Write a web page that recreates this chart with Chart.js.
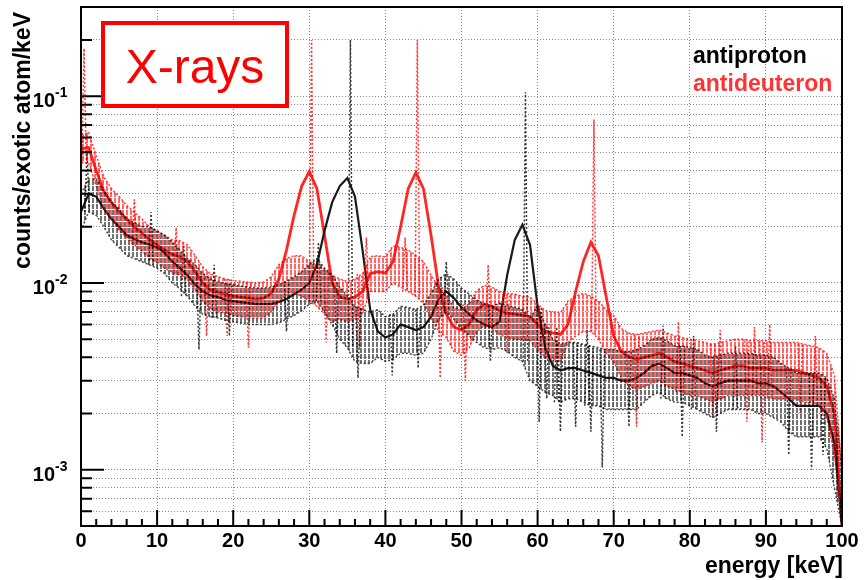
<!DOCTYPE html>
<html>
<head>
<meta charset="utf-8">
<script src="https://cdn.jsdelivr.net/npm/chart.js@4.4.1/dist/chart.umd.min.js"></script>
<style>
  html, body { margin: 0; padding: 0; background: #fff; }
  canvas { display: block; }
</style>
</head>
<body>
<canvas id="xray" width="867" height="580"></canvas>
<script>
// energy bins [keV]
const energy = [0,1,2,3,4,5,6,7,8,9,10,11,12,13,14,15,16,17,18,19,20,21,22,23,24,25,26,27,28,29,
  30,31,32,33,34,35,36,37,38,39,40,41,42,43,44,45,46,47,48,49,50,51,52,53,54,55,56,57,58,59,
  60,61,62,63,64,65,66,67,68,69,70,71,72,73,74,75,76,77,78,79,80,81,82,83,84,85,86,87,88,89,
  90,91,92,93,94,95,96,97,98,99,100];

// antiproton: smoothed spectrum + spread of the raw bins
const pbarLine = [0.024,0.030,0.029,0.025,0.022,0.020,0.018,0.0172,0.0165,0.016,
  0.0155,0.0145,0.013,0.012,0.011,0.0098,0.009,0.0086,0.0084,0.0081,
  0.008,0.0079,0.0078,0.0077,0.0077,0.0077,0.0079,0.0082,0.0087,0.0092,
  0.0100,0.0125,0.019,0.027,0.033,0.0365,0.029,0.015,0.0072,0.0055,
  0.0051,0.0053,0.0060,0.0058,0.0056,0.0058,0.0066,0.0082,0.0090,0.0083,
  0.0074,0.0068,0.0063,0.0060,0.0058,0.0062,0.0110,0.0170,0.0205,0.0160,
  0.0075,0.0045,0.0036,0.0034,0.0035,0.0035,0.0034,0.0033,0.0032,0.0031,
  0.0031,0.0030,0.0030,0.0031,0.0033,0.0036,0.0037,0.0035,0.0033,0.0033,
  0.0032,0.0031,0.0029,0.0028,0.0029,0.0030,0.0030,0.0030,0.0030,0.0029,
  0.0029,0.0028,0.0026,0.0024,0.0022,0.0022,0.0022,0.0022,0.0020,0.0014,
  0.0005];
const pbarHi = [0.030,0.036,0.036,0.031,0.027,0.025,0.022,0.021,0.020,0.020,
  0.019,0.018,0.0165,0.015,0.0135,0.0125,0.0112,0.0105,0.0102,0.0099,
  0.0098,0.0096,0.0095,0.0094,0.0094,0.0095,0.0098,0.0102,0.0108,0.0115,
  0.0125,0.0135,0.0120,0.0110,0.0095,0.0085,0.0075,0.0072,0.0070,0.0072,
  0.0066,0.0068,0.0075,0.0074,0.0072,0.0076,0.0088,0.0105,0.0112,0.0105,
  0.0094,0.0087,0.0081,0.0077,0.0075,0.0078,0.0076,0.0074,0.0072,0.0065,
  0.0075,0.0060,0.0050,0.0047,0.0048,0.0048,0.0047,0.0046,0.0045,0.0044,
  0.0044,0.0043,0.0043,0.0044,0.0046,0.0050,0.0051,0.0049,0.0046,0.0046,
  0.0045,0.0044,0.0041,0.0040,0.0041,0.0042,0.0042,0.0042,0.0042,0.0041,
  0.0041,0.0040,0.0037,0.0035,0.0033,0.0033,0.0033,0.0033,0.0031,0.0024,
  0.0010];
const pbarLo = [0.019,0.024,0.023,0.020,0.017,0.0155,0.014,0.0135,0.013,0.0125,
  0.012,0.0112,0.010,0.0093,0.0085,0.0075,0.0068,0.0066,0.0065,0.0063,
  0.0062,0.0061,0.0060,0.0060,0.0060,0.0060,0.0061,0.0064,0.0067,0.0071,
  0.0077,0.0080,0.0070,0.0060,0.0050,0.0045,0.0038,0.0037,0.0037,0.0040,
  0.0038,0.0039,0.0042,0.0042,0.0041,0.0042,0.0050,0.0064,0.0070,0.0064,
  0.0057,0.0052,0.0048,0.0045,0.0044,0.0045,0.0043,0.0040,0.0038,0.0030,
  0.0028,0.0026,0.0025,0.0023,0.0024,0.0024,0.0023,0.0022,0.0022,0.0021,
  0.0021,0.0021,0.0021,0.0021,0.0023,0.0025,0.0026,0.0024,0.0023,0.0023,
  0.0022,0.0021,0.0020,0.0019,0.0020,0.0021,0.0021,0.0021,0.0021,0.0020,
  0.0020,0.0019,0.0018,0.0016,0.0015,0.0015,0.0015,0.0015,0.0013,0.0008,
  0.0005];
// single raw bins sticking out (lines, peaks)
const pbarSpikeX = [0.8,9.2,13.5,15.5,17.5,19.5,27,31.2,33.6,35.4,36.4,40.9,44.3,48,53.8,58.4,
  60.2,61.2,62.5,63,65,66.5,67,68.5,72,76.5,79,80.5,83.5,86,93,96,97.5];
const pbarSpikeY = [0.05,0.024,0.016,0.0044,0.0125,0.0052,0.0055,0.0165,0.0042,0.20,0.0031,0.0032,0.0035,0.013,0.0038,0.105,
  0.0018,0.0024,0.0058,0.0016,0.0017,0.0056,0.0016,0.00103,0.0017,0.0059,0.0015,0.0052,0.0016,0.0046,0.0012,0.0010,0.0012];

// antideuteron
const dbarLine = [0.052,0.053,0.040,0.031,0.027,0.024,0.022,0.020,0.0185,0.017,
  0.016,0.015,0.0142,0.0138,0.013,0.0115,0.0100,0.0092,0.0089,0.0087,
  0.0085,0.0084,0.0083,0.0082,0.0083,0.0088,0.0105,0.0150,0.0230,0.0330,
  0.0395,0.0320,0.0180,0.0100,0.0084,0.0082,0.0084,0.0090,0.0112,0.0115,
  0.0113,0.0130,0.0200,0.0320,0.0390,0.0320,0.0180,0.0095,0.0068,0.0058,
  0.0056,0.0060,0.0072,0.0077,0.0075,0.0071,0.0069,0.0068,0.0067,0.0066,
  0.0060,0.0055,0.0054,0.0053,0.0060,0.0090,0.0130,0.0165,0.0140,0.0085,
  0.0052,0.0043,0.0040,0.0039,0.0040,0.0041,0.0042,0.0040,0.0038,0.0037,
  0.0036,0.0035,0.0034,0.0033,0.0034,0.0035,0.0036,0.0036,0.0035,0.0035,
  0.0035,0.0034,0.0034,0.0034,0.0034,0.0033,0.0032,0.0031,0.0028,0.0020,
  0.0005];
const dbarHi = [0.062,0.064,0.048,0.037,0.032,0.029,0.026,0.024,0.022,0.020,
  0.019,0.018,0.017,0.0168,0.016,0.014,0.0122,0.0112,0.0108,0.0105,
  0.0103,0.0102,0.0101,0.0100,0.0101,0.0108,0.0125,0.0135,0.0140,0.0140,
  0.0130,0.0125,0.0118,0.0110,0.0105,0.0102,0.0105,0.0112,0.0138,0.0140,
  0.0138,0.0158,0.0155,0.0150,0.0140,0.0130,0.0110,0.0095,0.0086,0.0074,
  0.0072,0.0077,0.0091,0.0097,0.0095,0.0090,0.0088,0.0087,0.0085,0.0084,
  0.0077,0.0071,0.0070,0.0069,0.0080,0.0085,0.0088,0.0085,0.0080,0.0072,
  0.0067,0.0057,0.0054,0.0053,0.0054,0.0055,0.0056,0.0054,0.0052,0.0051,
  0.0050,0.0049,0.0048,0.0047,0.0048,0.0049,0.0050,0.0050,0.0049,0.0049,
  0.0049,0.0048,0.0048,0.0048,0.0048,0.0047,0.0046,0.0045,0.0042,0.0032,
  0.0010];
const dbarLo = [0.044,0.044,0.033,0.025,0.022,0.019,0.0175,0.016,0.0148,0.0136,
  0.0128,0.012,0.0114,0.011,0.0104,0.0092,0.0080,0.0073,0.0070,0.0069,
  0.0067,0.0066,0.0065,0.0065,0.0065,0.0070,0.0080,0.0085,0.0088,0.0085,
  0.0080,0.0075,0.0068,0.0062,0.0064,0.0062,0.0064,0.0069,0.0090,0.0090,
  0.0090,0.0100,0.0095,0.0090,0.0085,0.0078,0.0065,0.0055,0.0051,0.0043,
  0.0041,0.0045,0.0055,0.0059,0.0057,0.0053,0.0051,0.0050,0.0050,0.0049,
  0.0044,0.0040,0.0039,0.0038,0.0048,0.0052,0.0055,0.0055,0.0050,0.0042,
  0.0038,0.0031,0.0028,0.0027,0.0028,0.0029,0.0030,0.0028,0.0027,0.0026,
  0.0025,0.0025,0.0024,0.0023,0.0024,0.0025,0.0025,0.0025,0.0025,0.0025,
  0.0025,0.0024,0.0024,0.0024,0.0024,0.0023,0.0023,0.0022,0.0019,0.0012,
  0.0005];
const dbarSpikeX = [0.4,7,12.5,16.5,19.2,22,30.3,32.2,36.6,37.5,42.6,44.2,47.2,50.5,53.5,56,
  67.4,73,78.5,83,84,87.5,88.5,89.5,90.5,94.5,96.5];
const dbarSpikeY = [0.18,0.028,0.0198,0.0052,0.0052,0.0045,0.20,0.0048,0.0045,0.0175,0.0175,0.20,0.0031,0.0030,0.0125,0.0042,
  0.075,0.0017,0.0062,0.0019,0.0056,0.0018,0.0058,0.0014,0.0060,0.0020,0.0052];

// axes
const xTicks = [0,10,20,30,40,50,60,70,80,90,100];
const yGrid = [0.0006,0.0007,0.0008,0.0009,0.001,0.002,0.003,0.004,0.005,0.006,0.007,0.008,0.009,
  0.01,0.02,0.03,0.04,0.05,0.06,0.07,0.08,0.09,0.1,0.2];
const yLabelValues = [0.001, 0.01, 0.1];
const yLabelExp = ['-3', '-2', '-1'];

const FONT = '"Liberation Sans", Arial, Helvetica, sans-serif';

// vertical error-bar look for the raw-bin spread
function hatch(color, off) {
  const c = document.createElement('canvas');
  c.width = 4; c.height = 6;
  const g = c.getContext('2d');
  g.fillStyle = color;
  g.fillRect(off, 0, 2, 5);
  return g.createPattern(c, 'repeat');
}

function pts(ys) {
  return energy.map((e, i) => ({ x: e, y: ys[i] }));
}

// narrow dotted spike from the band edge out to the raw value
function spikes(xs, ys, hi, lo) {
  const out = [];
  xs.forEach((x, k) => {
    const i = Math.round(x);
    const base = ys[k] > hi[i] ? lo[i] : hi[i];
    out.push({ x: x - 0.3, y: base }, { x: x, y: ys[k] }, { x: x + 0.3, y: base }, { x: x, y: null });
  });
  return out;
}

const band = (data, color, fill, bg) => ({
  data: data, borderColor: color, borderWidth: 1.5, borderDash: [2, 2],
  pointRadius: 0, tension: 0, fill: fill, backgroundColor: bg
});

const decor = {
  id: 'decor',
  afterDraw(chart) {
    const { ctx, chartArea: a, scales: { x, y } } = chart;
    ctx.save();
    ctx.strokeStyle = '#000';
    ctx.lineWidth = 2;
    ctx.strokeRect(a.left, a.top, a.right - a.left, a.bottom - a.top);

    ctx.beginPath();
    for (let v = 0; v <= 100; v += 2) {
      const px = x.getPixelForValue(v);
      const len = v % 10 === 0 ? 16 : 7;
      ctx.moveTo(px, a.bottom);
      ctx.lineTo(px, a.bottom - len);
    }
    yGrid.forEach(v => {
      const py = y.getPixelForValue(v);
      const len = yLabelValues.includes(v) ? 23 : 11;
      ctx.moveTo(a.left, py);
      ctx.lineTo(a.left + len, py);
    });
    ctx.stroke();

    // y tick labels 10^n
    ctx.fillStyle = '#000';
    yLabelValues.forEach((v, i) => {
      const py = y.getPixelForValue(v);
      ctx.font = 'bold 20px ' + FONT;
      ctx.textAlign = 'right';
      ctx.textBaseline = 'alphabetic';
      ctx.fillText('10', 55, py + 11);
      ctx.font = 'bold 14px ' + FONT;
      ctx.textAlign = 'left';
      ctx.fillText(yLabelExp[i], 55, py + 1);
    });

    // axis titles
    ctx.font = 'bold 23px ' + FONT;
    ctx.textAlign = 'right';
    ctx.textBaseline = 'alphabetic';
    ctx.fillText('energy [keV]', a.right + 1, 573);
    ctx.save();
    ctx.translate(30, 12);
    ctx.rotate(-Math.PI / 2);
    ctx.fillText('counts/exotic atom/keV', 0, 0);
    ctx.restore();

    // legend
    ctx.textAlign = 'left';
    ctx.font = 'bold 23px ' + FONT;
    ctx.fillStyle = '#000';
    ctx.fillText('antiproton', 693, 63);
    ctx.fillStyle = '#ff3333';
    ctx.fillText('antideuteron', 693, 91);

    // label box
    ctx.fillStyle = '#fff';
    ctx.fillRect(103, 23, 184, 83);
    ctx.strokeStyle = '#ff0000';
    ctx.lineWidth = 4;
    ctx.strokeRect(103, 23, 184, 83);
    ctx.fillStyle = '#ff0000';
    ctx.font = '48px ' + FONT;
    ctx.textAlign = 'center';
    ctx.fillText('X-rays', 195, 83);
    ctx.restore();
  }
};

new Chart(document.getElementById('xray'), {
  type: 'line',
  data: {
    datasets: [
      band(pts(pbarHi), 'rgba(0,0,0,0.7)', '+1', hatch('rgba(0,0,0,0.55)', 0)),
      band(pts(pbarLo), 'rgba(0,0,0,0.7)', false, 'transparent'),
      band(pts(dbarHi), 'rgba(255,0,0,0.75)', '+1', hatch('rgba(255,0,0,0.6)', 2)),
      band(pts(dbarLo), 'rgba(255,0,0,0.75)', false, 'transparent'),
      {
        data: spikes(pbarSpikeX, pbarSpikeY, pbarHi, pbarLo),
        borderColor: 'rgba(20,20,20,0.85)', borderWidth: 1.5, borderDash: [2, 2],
        pointRadius: 0, tension: 0, fill: false
      },
      {
        data: spikes(dbarSpikeX, dbarSpikeY, dbarHi, dbarLo),
        borderColor: 'rgba(255,20,20,0.85)', borderWidth: 1.5, borderDash: [2, 2],
        pointRadius: 0, tension: 0, fill: false
      },
      {
        data: pts(pbarLine), borderColor: '#1a1a1a', borderWidth: 2.2,
        pointRadius: 0, tension: 0, fill: false
      },
      {
        data: pts(dbarLine), borderColor: 'rgba(255,0,0,0.85)', borderWidth: 2.8,
        pointRadius: 0, tension: 0, fill: false
      }
    ]
  },
  options: {
    responsive: false,
    animation: false,
    events: [],
    layout: { padding: { top: 7, right: 25, left: 0, bottom: 0 } },
    plugins: { legend: { display: false }, tooltip: { enabled: false } },
    scales: {
      x: {
        type: 'linear', min: 0, max: 100,
        afterBuildTicks: s => { s.ticks = xTicks.map(v => ({ value: v })); },
        afterFit: s => { s.height = 54; },
        grid: { color: '#8a8a8a', lineWidth: 1, drawTicks: false },
        border: { display: false, dash: [1, 2] },
        ticks: {
          padding: 3, color: '#000', maxRotation: 0, autoSkip: false,
          font: { family: FONT, size: 20, weight: 'bold' }
        }
      },
      y: {
        type: 'logarithmic', min: 0.0005, max: 0.3,
        afterBuildTicks: s => { s.ticks = yGrid.map(v => ({ value: v })); },
        afterFit: s => { s.width = 81; },
        grid: { color: '#8a8a8a', lineWidth: 1, drawTicks: false },
        border: { display: false, dash: [1, 2] },
        ticks: { display: false }
      }
    }
  },
  plugins: [decor]
});
</script>
</body>
</html>
